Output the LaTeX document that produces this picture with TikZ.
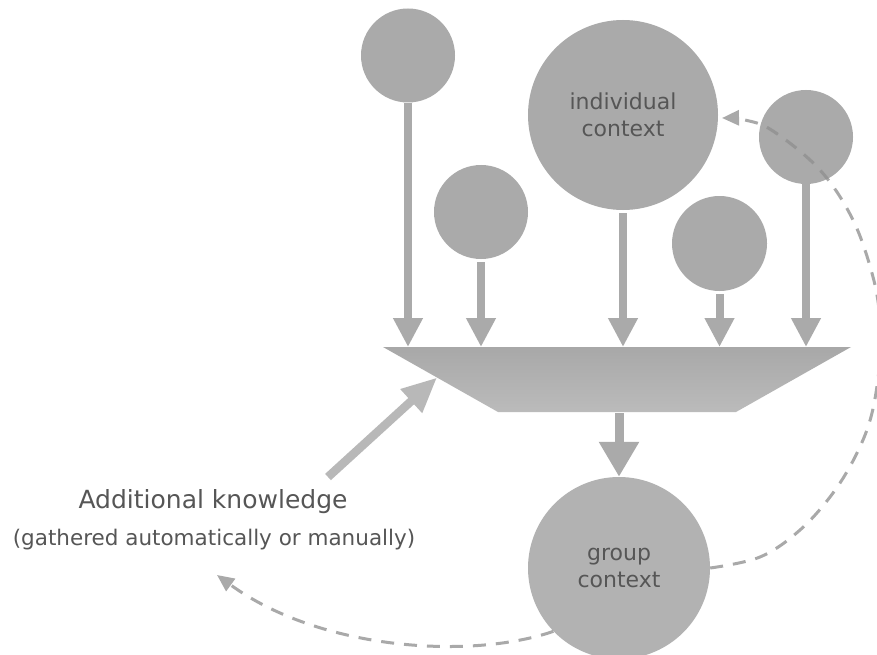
\documentclass[tikz,border=0pt]{standalone}
\usepackage{fontspec}
\setmainfont{DejaVu Sans}
\usetikzlibrary{arrows.meta,calc}

\definecolor{discgray}{HTML}{AAAAAA}
\definecolor{groupgray}{HTML}{B2B2B2}
\definecolor{inkgray}{HTML}{565656}
\definecolor{flowtop}{HTML}{A8A8A8}
\definecolor{flowbot}{HTML}{BBBBBB}
\definecolor{inflowgray}{HTML}{B8B8B8}
\definecolor{backgray}{HTML}{A9A9A9}
\definecolor{backdark}{HTML}{959595}

\begin{document}
\begin{tikzpicture}[x=1pt,y=-1pt,
  disc/.style={circle,fill=discgray,inner sep=0pt,minimum size=#1,
    text=inkgray,align=center,font=\fontsize{22}{27}\selectfont},
  feed/.style={draw=discgray,line width=8pt,-{Triangle[width=28pt,length=29pt]}},
  outflow/.style={draw=discgray,line width=9pt,-{Triangle[width=38pt,length=35pt]}},
  inflow/.style={draw=inflowgray,line width=8.5pt,-{Triangle[width=30pt,length=35pt]}},
  backlink/.style={draw=#1,line width=3pt,dash pattern=on 13pt off 10pt,
    -{Triangle[width=15pt,length=17pt]}},
  caption/.style={text=inkgray,inner sep=0pt}
]
\useasboundingbox[fill=white] (0,0) rectangle (877,655);

% source contexts
\node[disc=94pt]  (c1)  at (408,55.5) {};
\node[disc=94pt]  (c2)  at (481,212) {};
\node[disc=190pt] (ind) at (623,115) {individual\\context};
\node[disc=95pt]  (c4)  at (719.5,243.5) {};
\node[disc=94pt]  (c5)  at (806,137) {};

% combined result
\node[disc=182pt,fill=groupgray] (grp) at (619,568) {group\\context};

% the merging funnel
\coordinate (fTL) at (383,347);
\coordinate (fTR) at (851,347);
\coordinate (fBR) at (736,412);
\coordinate (fBL) at (498,412);
\shade[top color=flowtop,bottom color=flowbot]
  (fTL) -- (fTR) -- (fBR) -- (fBL) -- cycle;

% feeds into the funnel
\draw[feed] (c1.south) -- (c1.south |- fTL);
\draw[feed,shorten <=3pt] (c2.south) -- (c2.south |- fTL);
\draw[feed,shorten <=3pt] (ind.south) -- (ind.south |- fTL);
\draw[feed,shorten <=3pt] (c4.south) -- (c4.south |- fTL);
\draw[feed] (c5.south) -- (c5.south |- fTL);

% funnel output
\coordinate (fOut) at (619,413);
\draw[outflow] (fOut) -- (grp.north);

% additional knowledge
\node[caption,font=\fontsize{25}{30}\selectfont] (addk) at (213,502) {Additional knowledge};
\node[caption,font=\fontsize{21.5}{26}\selectfont] (gath) at (214,540) {(gathered automatically or manually)};
\coordinate (ktail) at (328,477);
\coordinate (kin) at ($(fTL)!0.47!(fBL)$);
\draw[inflow] (ktail) -- (kin);

% feedback loops
\coordinate (ret) at (722,118);
\coordinate (gret) at (217,575);
\newcommand\rightloop{plot[smooth,tension=0.6] coordinates {(grp.0) (760,557)
  (800,530) (833,493) (857,453) (872,413) (880,360) (880,320) (873,277)
  (853,220) (820,170) (773,131) (745,120) (ret)}}
\draw[backlink=backgray] \rightloop;
\begin{scope}
  \clip (c5.center) circle[radius=47];
  \draw[backlink=backdark] \rightloop;
\end{scope}
\draw[backlink=backgray] (grp.224) .. controls (470,660) and (320,650) .. (gret);
\end{tikzpicture}
\end{document}
